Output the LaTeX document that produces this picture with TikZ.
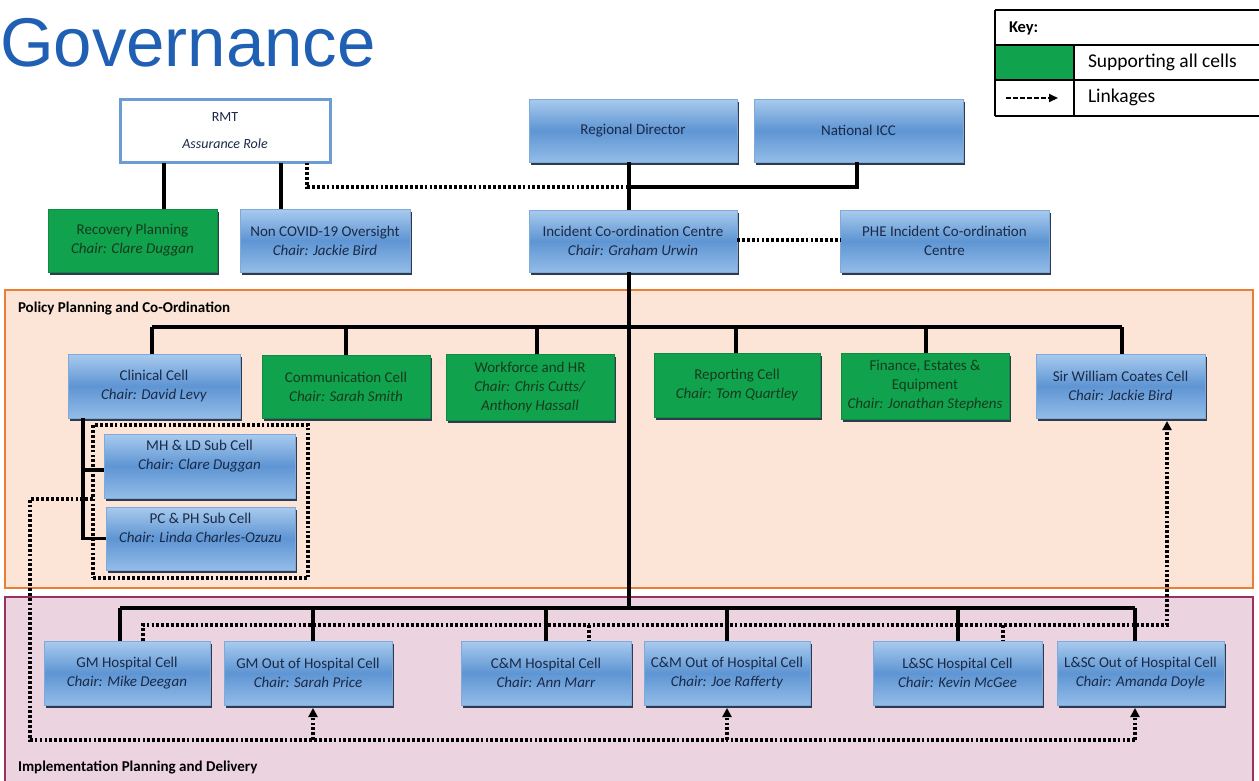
\documentclass[tikz,border=0pt]{standalone}
\usepackage{fontspec}
\setmainfont{Carlito}
\newfontfamily\titlefont{Liberation Sans}
\usetikzlibrary{arrows.meta,shadows}
\definecolor{titleblue}{HTML}{1F5FB4}
\definecolor{boxtop}{HTML}{A9CBEE}
\definecolor{boxmid}{HTML}{5E95D3}
\definecolor{boxbot}{HTML}{93BCE8}
\definecolor{boxedge}{HTML}{7FA9D8}
\definecolor{shadowc}{HTML}{2E3B4E}
\definecolor{navytext}{HTML}{1A2A48}
\definecolor{cellgreen}{HTML}{10A24D}
\definecolor{greentext}{HTML}{163A1E}
\definecolor{peach}{HTML}{FCE4D6}
\definecolor{orangeb}{HTML}{EC7E33}
\definecolor{pinkbg}{HTML}{EBD3DF}
\definecolor{maroonb}{HTML}{9C2F62}
\definecolor{rmtb}{HTML}{6C9DD2}
\definecolor{keygreen}{HTML}{10A24D}
\newcommand\cfont{\fontsize{15}{19}\selectfont}
\begin{document}
\begin{tikzpicture}[x=1pt,y=-1pt,
  every node/.style={inner sep=0pt,outer sep=0pt},
  sz/.style 2 args={minimum width=#1pt,minimum height=#2pt},
  cellshadow/.style={drop shadow={shadow xshift=2pt,shadow yshift=-2.5pt,fill=shadowc,opacity=1}},
  bluecell/.style={align=center,font=\cfont,text=navytext,cellshadow,
    top color=boxtop,bottom color=boxbot,middle color=boxmid,draw=boxedge,line width=0.5pt},
  greencell/.style={align=center,font=\cfont,text=greentext,cellshadow,
    fill=cellgreen,draw=cellgreen!85!black,line width=0.5pt},
  conn/.style={line width=3.4pt,black},
  link/.style={line width=3.1pt,black,dash pattern=on 2.8pt off 2.1pt},
  arr/.style={-{Triangle[length=9pt,width=9pt]}},
  regionlabel/.style={anchor=west,font=\fontsize{15}{17}\selectfont\bfseries,text=black},
  keytext/.style={anchor=west,font=\fontsize{19.5}{21}\selectfont,text=black}
]
\useasboundingbox (0,0) rectangle (1259,780);
\fill[white] (0,0) rectangle (1259,780);

% title
\node[anchor=base west,font=\titlefont\fontsize{69}{72}\selectfont,text=titleblue] (title) at (0,66) {Governance};

% key
\fill[keygreen] (995,45) rectangle (1074,80);
\draw[line width=1.3pt] (995,10) -- (1259,10) (995,45) -- (1259,45) (995,80) -- (1259,80) (995,116) -- (1259,116)
  (995,10) -- (995,116) (1074,45) -- (1074,116);
\node[keytext,font=\fontsize{16.5}{18}\selectfont\bfseries] (keyhead) at (1009,28) {Key:};
\node[keytext] (keysup) at (1088,62) {Supporting all cells};
\node[keytext] (keylink) at (1088,97) {Linkages};
\coordinate (ka) at (1006,98);
\coordinate (kb) at (1058,98);
\draw[line width=2pt,dash pattern=on 4.5pt off 2.5pt,-{Triangle[length=9pt,width=8pt]}] (ka) -- (kb);

% regions
\node[draw=orangeb,fill=peach,line width=2.6pt,sz={1248}{298}] (policy) at (629,439) {};
\node[regionlabel] (policylab) at (18,308) {Policy Planning and Co-Ordination};
\node[draw=maroonb,fill=pinkbg,line width=2.6pt,sz={1248}{200}] (impl) at (629,697) {};
\node[regionlabel] (impllab) at (18,767) {Implementation Planning and Delivery};

% top level
\node[draw=rmtb,fill=white,line width=3pt,sz={210}{63},align=center,text=navytext,
      font=\fontsize{14}{17}\selectfont] (rmt) at (225,131) {RMT\\[10pt]\textit{Assurance Role}};
\node[greencell,sz={169}{63}] (rp) at (132.5,240.5) {Recovery Planning\\\textit{Chair: Clare Duggan}};
\node[bluecell,sz={170}{63}] (nco) at (325,240.5) {Non COVID-19 Oversight\\\textit{Chair: Jackie Bird}};
\node[bluecell,sz={208}{63}] (rd) at (633,130.5) {Regional Director};
\node[bluecell,sz={209}{63}] (nicc) at (858.5,130.5) {National ICC};
\node[bluecell,sz={208}{62}] (icc) at (633,241) {Incident Co-ordination Centre\\\textit{Chair: Graham Urwin}};
\node[bluecell,sz={209}{62}] (phe) at (944.5,241) {PHE Incident Co-ordination\\Centre};

% policy cells
\node[bluecell,sz={172}{64}] (clin) at (154,386) {Clinical Cell\\\textit{Chair: David Levy}};
\node[greencell,sz={168}{63}] (comm) at (346,386.5) {Communication Cell\\\textit{Chair: Sarah Smith}};
\node[greencell,sz={168}{66}] (wf) at (530,387) {Workforce and HR\\\textit{Chair: Chris Cutts/}\\\textit{Anthony Hassall}};
\node[greencell,sz={166}{64}] (rep) at (737,385) {Reporting Cell\\\textit{Chair: Tom Quartley}};
\node[greencell,sz={168}{66}] (fin) at (925,386) {Finance, Estates \&\\Equipment\\\textit{Chair: Jonathan Stephens}};
\node[bluecell,sz={169}{64}] (swc) at (1120.5,386) {Sir William Coates Cell\\\textit{Chair: Jackie Bird}};

\node[draw=black,link,sz={215}{153}] (subgrp) at (200.5,501.5) {};
\node[bluecell,sz={191}{64},text depth=22pt] (mh) at (199.5,466) {MH \& LD Sub Cell\\\textit{Chair: Clare Duggan}};
\node[bluecell,sz={189}{63},text depth=22pt] (pc) at (200.5,538.5) {PC \& PH Sub Cell\\\textit{Chair: Linda Charles-Ozuzu}};

% implementation cells
\node[bluecell,sz={166}{64}] (gmh) at (127,673) {GM Hospital Cell\\\textit{Chair: Mike Deegan}};
\node[bluecell,sz={168}{64}] (gmo) at (308,673) {GM Out of Hospital Cell\\\textit{Chair: Sarah Price}};
\node[bluecell,sz={170}{64}] (cmh) at (546,673) {C\&M Hospital Cell\\\textit{Chair: Ann Marr}};
\node[bluecell,sz={166}{64}] (cmo) at (727,673) {C\&M Out of Hospital Cell\\\textit{Chair: Joe Rafferty}};
\node[bluecell,sz={169}{64}] (lh) at (957.5,673) {L\&SC Hospital Cell\\\textit{Chair: Kevin McGee}};
\node[bluecell,sz={167}{64}] (lo) at (1140.5,673) {L\&SC Out of Hospital Cell\\\textit{Chair: Amanda Doyle}};

% junction coordinates
\coordinate (j1) at (629,187);
\coordinate (pb) at (629,327);
\coordinate (ib) at (629,608);
\coordinate (ll) at (30,740);
\coordinate (ul) at (143,625);
\coordinate (ga) at ([yshift=-3pt]gmo.south);
\coordinate (ca) at ([yshift=-3pt]cmo.south);
\coordinate (la) at ([yshift=-3pt]lo.south);
\coordinate (sa) at ([yshift=-3pt]swc.south);

% top connectors
\draw[conn] (164,0 |- rmt.south) -- (164,0 |- rp.north);
\draw[conn] (281,0 |- rmt.south) -- (281,0 |- nco.north);
\draw[link] (307,0 |- rmt.south) |- (j1);
\draw[conn] (629,0 |- rd.south) -- (629,0 |- icc.north);
\draw[conn] (857,0 |- nicc.south) |- (j1);
\draw[link] (icc.east |- 0,240) -- (phe.west |- 0,240);
\draw[conn] (629,0 |- icc.south) -- (ib);

% policy bus
\draw[conn] (152,0 |- pb) -- (1122,0 |- pb);
\draw[conn] (152,0 |- pb) -- (152,0 |- clin.north);
\draw[conn] (comm.north |- pb) -- (comm.north);
\draw[conn] (537,0 |- pb) -- (537,0 |- wf.north);
\draw[conn] (736,0 |- pb) -- (736,0 |- rep.north);
\draw[conn] (926,0 |- pb) -- (926,0 |- fin.north);
\draw[conn] (1122,0 |- pb) -- (1122,0 |- swc.north);

% clinical sub cells
\draw[conn] (83,0 |- clin.south) |- (pc.west);
\draw[conn] (83,0 |- 0,470) -- (mh.west |- 0,470);

% implementation bus
\draw[conn] (120,0 |- ib) -- (1135,0 |- ib);
\draw[conn] (120,0 |- ib) -- (120,0 |- gmh.north);
\draw[conn] (313,0 |- ib) -- (313,0 |- gmo.north);
\draw[conn] (546,0 |- ib) -- (546,0 |- cmh.north);
\draw[conn] (727,0 |- ib) -- (727,0 |- cmo.north);
\draw[conn] (958,0 |- ib) -- (958,0 |- lh.north);
\draw[conn] (1135,0 |- ib) -- (1135,0 |- lo.north);

% linkages: hospital cells <-> Sir William Coates
\draw[link,arr] (ul |- gmh.north) -- (ul) -- (1167,625) -- (1167,0 |- sa);
\draw[link] (589,625) -- (589,0 |- cmh.north);
\draw[link] (1003,625) -- (1003,0 |- lh.north);

% linkages: clinical sub cells -> out of hospital cells
\draw[link] (subgrp.west |- 0,499) -| (ll) -- (1135,740);
\draw[link,arr] (313,740) -- (313,0 |- ga);
\draw[link,arr] (727,740) -- (727,0 |- ca);
\draw[link,arr] (1135,740) -- (1135,0 |- la);
\end{tikzpicture}
\end{document}
